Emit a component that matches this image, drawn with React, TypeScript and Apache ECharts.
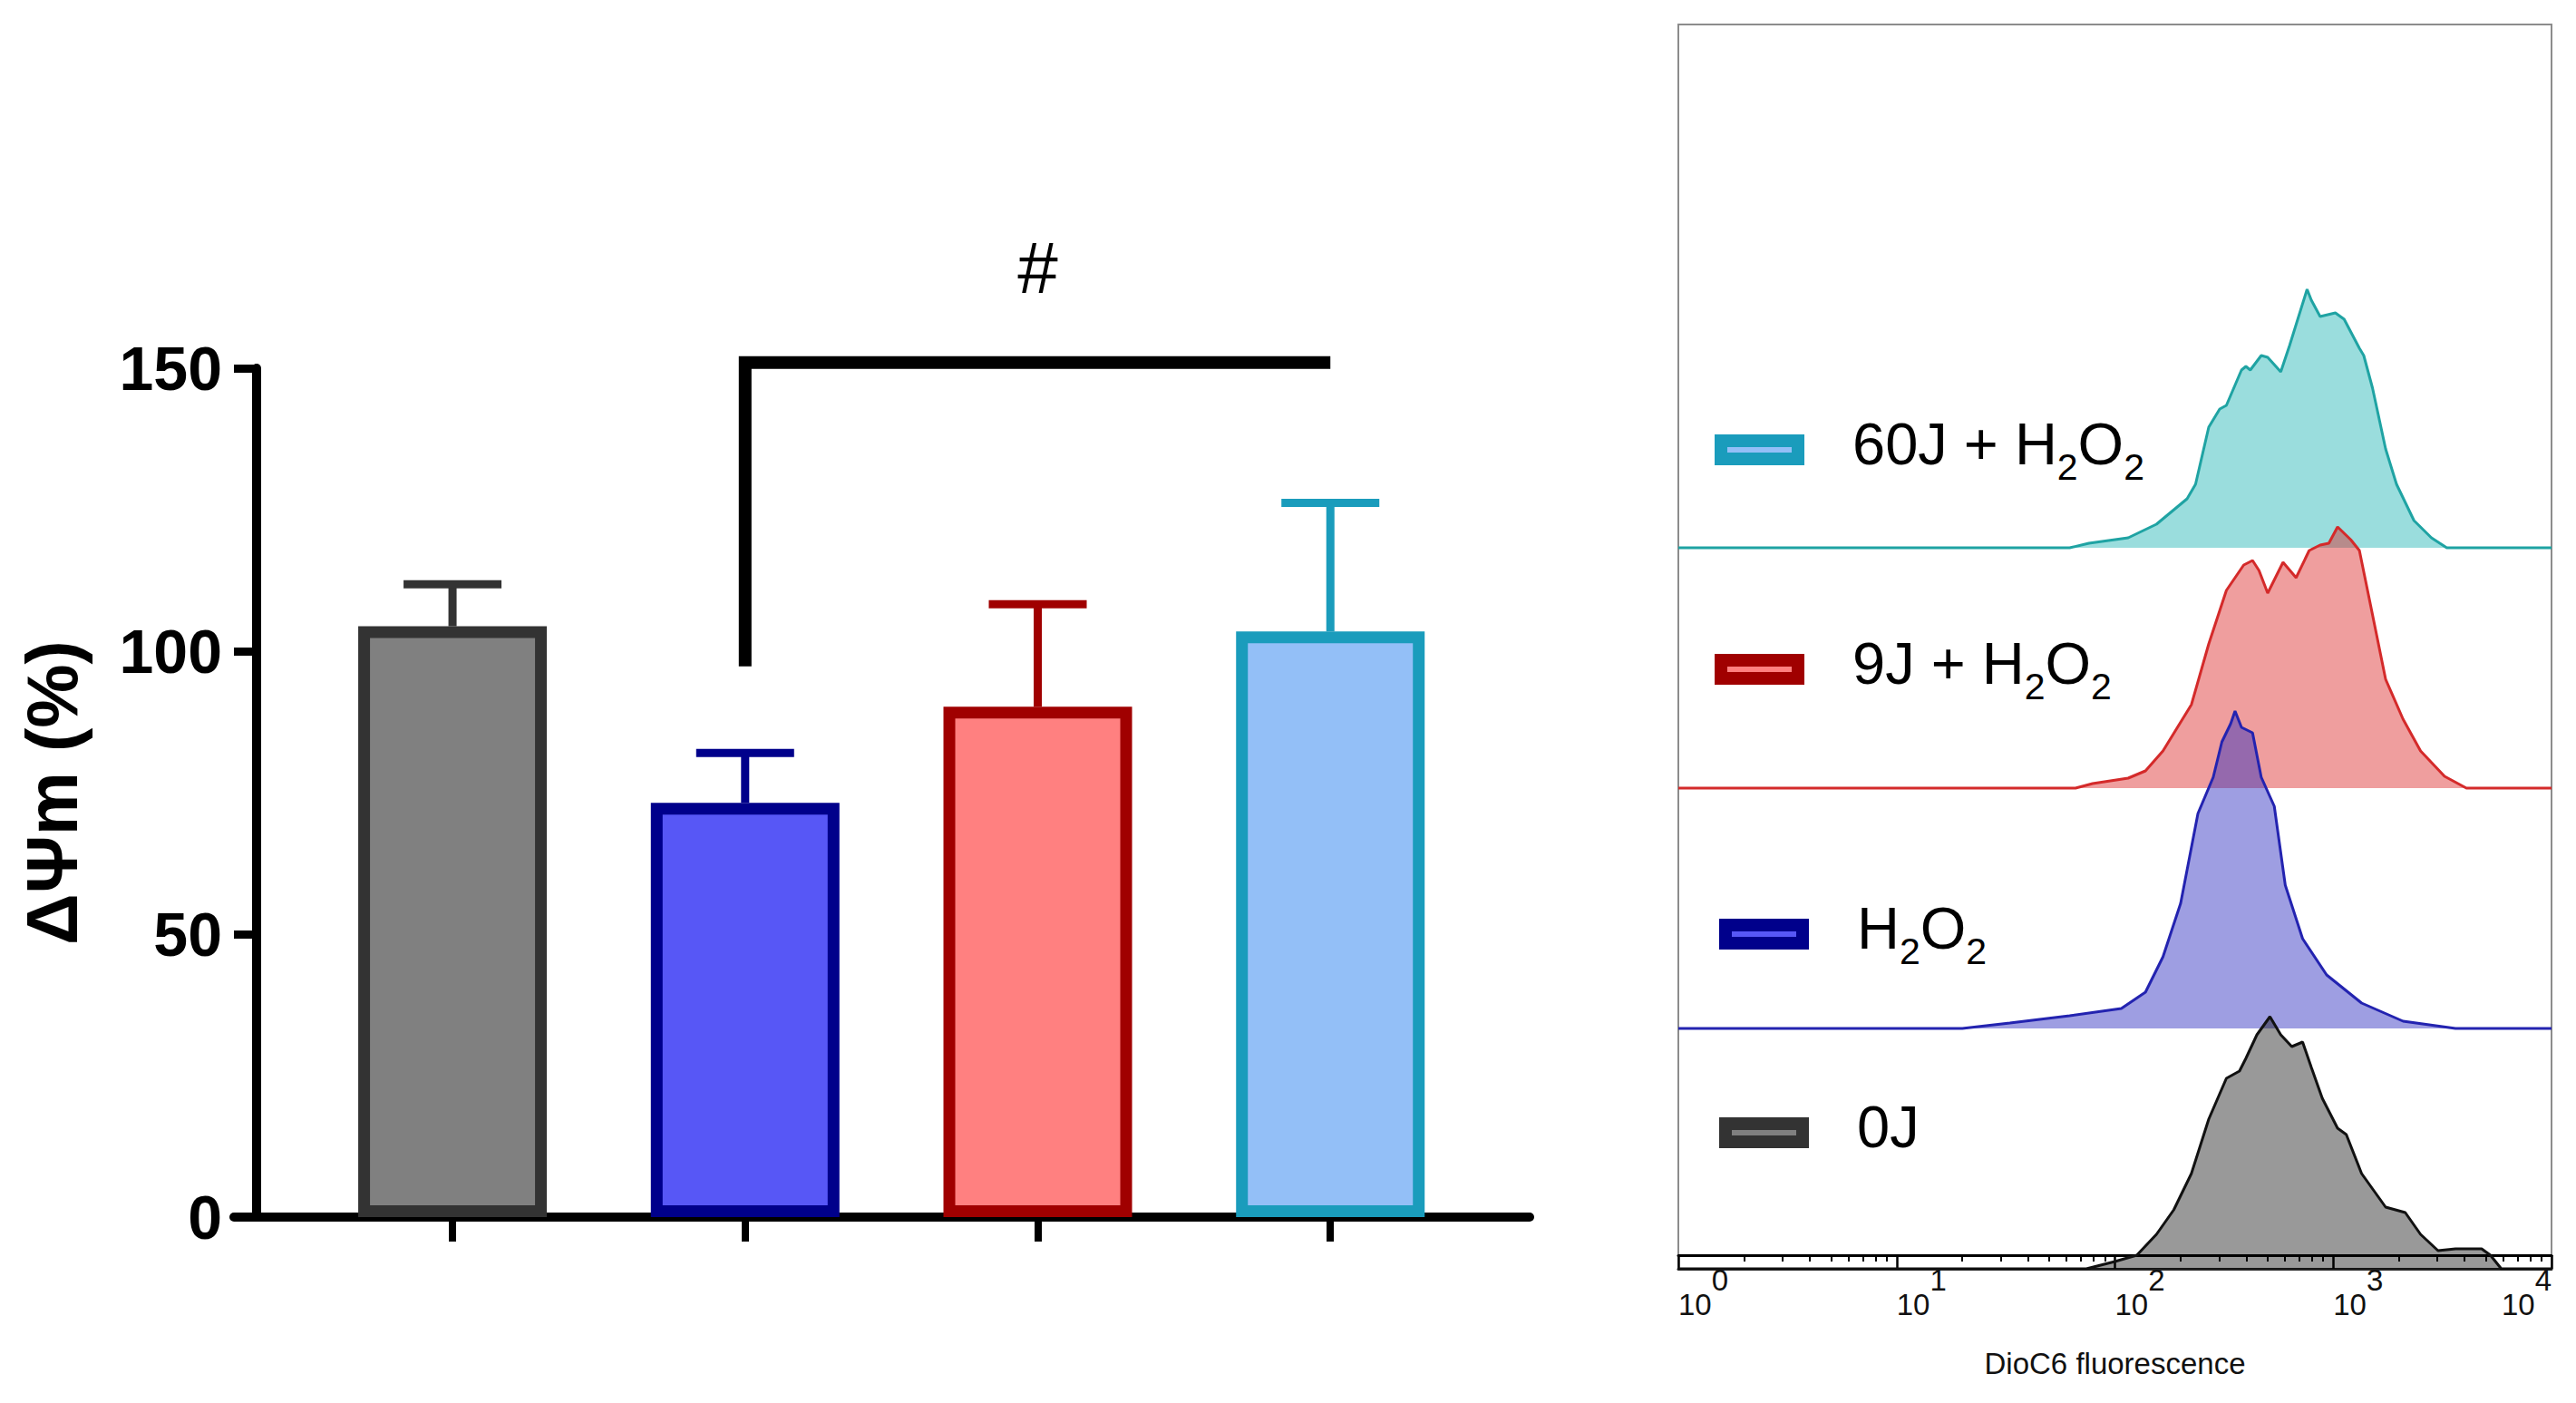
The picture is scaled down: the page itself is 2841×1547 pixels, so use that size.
import React, { useEffect, useRef } from 'react';
import * as echarts from 'echarts';

// ---------------- Bar chart data (ΔΨm, % of control) ----------------
const groups = ['0J', 'H2O2', '9J + H2O2', '60J + H2O2'];
const meanValues = [104.4, 73.2, 90.2, 103.5];
const sdUpperValues = [111.8, 82.0, 108.3, 126.2];
const yTickInterval = 50;
const yMax = 150;
const bracketGroups = [1, 3];
const bracketTop = 151;
const bracketDrop = 97.3;
const bracketLabel = '#';

const barFill = ['#808080', '#5757f6', '#ff8080', '#93bff7'];
const barBorder = ['#333333', '#00008b', '#a00000', '#1a9cbc'];

// ---------------- Flow cytometry histograms: [DioC6 fluorescence, count] ----------------
const fluorMajorTicks = [1, 10, 100, 1000, 10000];
const fluorMinorTicks = [
  2, 3, 4, 5, 6, 7, 8, 9,
  20, 30, 40, 50, 60, 70, 80, 90,
  200, 300, 400, 500, 600, 700, 800, 900,
  2000, 3000, 4000, 5000, 6000, 7000, 8000, 9000,
];

const hist60J = [
  [1, 0], [62, 0], [76, 5], [115, 11], [155, 26], [214, 54], [234, 70], [269, 133], [302, 153],
  [324, 157], [380, 196], [398, 200], [417, 196], [468, 212], [501, 210], [575, 194], [631, 223],
  [759, 285], [794, 273], [871, 255], [1023, 259], [1122, 252], [1318, 220], [1380, 212],
  [1514, 176], [1738, 109], [1950, 70], [2344, 30], [2818, 11], [3311, 0], [10000, 0],
];
const hist9J = [
  [1, 0], [66, 0], [79, 5], [115, 11], [138, 19], [166, 41], [224, 92], [269, 159], [324, 218],
  [389, 246], [427, 251], [457, 240], [501, 215], [589, 249], [676, 232], [776, 262], [871, 268],
  [955, 270], [1047, 288], [1202, 274], [1318, 262], [1479, 203], [1738, 120], [2089, 76],
  [2512, 41], [3236, 13], [4074, 0], [10000, 0],
];
const histH2O2 = [
  [1, 0], [20, 0], [33, 6], [62, 14], [107, 22], [138, 40], [166, 79], [200, 138], [240, 237],
  [282, 277], [309, 316], [339, 336], [355, 350], [380, 332], [427, 326], [468, 277], [537, 245],
  [603, 158], [724, 99], [933, 59], [1349, 28], [2089, 8], [3631, 0], [10000, 0],
];
const hist0J = [
  [1, 0], [74, 0], [100, 8], [126, 15], [155, 38], [186, 65], [224, 105], [269, 165], [324, 210],
  [372, 218], [398, 232], [447, 258], [513, 278], [575, 258], [646, 245], [724, 250], [794, 222],
  [891, 188], [1047, 155], [1148, 148], [1349, 105], [1738, 68], [2138, 62], [2512, 38],
  [3020, 20], [3631, 22], [4786, 22], [5248, 15], [5888, 0], [10000, 0],
];

const FONT = '"Liberation Sans", Arial, Helvetica, sans-serif';
const HIST_STEP = 265;

function legendRich(name: string): string {
  const segs = name.replace('H2O2', 'H\u0001O\u0001').split('\u0001');
  let out = '';
  segs.forEach((seg, i) => {
    if (seg) out += `{${i === 0 ? 'm0' : 'm'}|${seg}}`;
    if (i < segs.length - 1) out += '{s|2}';
  });
  return out;
}

function mkLegend(name: string, left: number, top: number) {
  return {
    data: [name],
    left,
    top,
    orient: 'vertical',
    padding: 0,
    itemWidth: 85,
    itemHeight: 20,
    icon: 'rect',
    selectedMode: false,
    itemStyle: { borderWidth: 14 },
    formatter: legendRich,
    textStyle: {
      color: '#000',
      fontFamily: FONT,
      fontSize: 65,
      rich: {
        m0: { fontSize: 65, fontFamily: FONT, color: '#000', padding: [0, 0, 13, 55], verticalAlign: 'top' },
        m: { fontSize: 65, fontFamily: FONT, color: '#000', padding: [0, 0, 13, 0], verticalAlign: 'top' },
        s: { fontSize: 41, fontFamily: FONT, color: '#000', verticalAlign: 'bottom' },
      },
    },
  };
}

function buildOption(): any {
  const positions = groups.map((_, i) => i);

  const barSeries = groups.map((g, i) => ({
    type: 'bar',
    name: g,
    xAxisIndex: 0,
    yAxisIndex: 0,
    data: [[positions[i], meanValues[i]]],
    barWidth: 208,
    barGap: '-100%',
    itemStyle: { color: barFill[i], borderColor: barBorder[i], borderWidth: 13 },
    z: 3,
  }));

  const errorSeries = {
    type: 'custom',
    name: 'SD',
    xAxisIndex: 0,
    yAxisIndex: 0,
    clip: false,
    z: 2,
    data: groups.map((_, i) => ({
      value: [positions[i], meanValues[i], sdUpperValues[i]],
      itemStyle: { color: barBorder[i] },
    })),
    renderItem: (params: any, api: any) => {
      const x = api.value(0);
      const p0 = api.coord([x, api.value(1)]);
      const p1 = api.coord([x, api.value(2)]);
      const color = api.visual('color');
      const half = 54;
      return {
        type: 'group',
        children: [
          { type: 'line', shape: { x1: p0[0], y1: p0[1], x2: p1[0], y2: p1[1] }, style: { stroke: color, lineWidth: 9 } },
          { type: 'line', shape: { x1: p1[0] - half, y1: p1[1], x2: p1[0] + half, y2: p1[1] }, style: { stroke: color, lineWidth: 9 } },
        ],
      };
    },
  };

  const bracketSeries = {
    type: 'custom',
    name: 'significance',
    xAxisIndex: 0,
    yAxisIndex: 0,
    clip: false,
    z: 4,
    data: [[bracketGroups[0], bracketGroups[1], bracketTop, bracketDrop]],
    renderItem: (params: any, api: any) => {
      const a = api.coord([api.value(0), api.value(3)]);
      const b = api.coord([api.value(0), api.value(2)]);
      const c = api.coord([api.value(1), api.value(2)]);
      return {
        type: 'group',
        children: [
          {
            type: 'polyline',
            shape: { points: [a, b, c] },
            style: { stroke: '#000', lineWidth: 14, fill: null, lineJoin: 'miter', lineCap: 'butt' },
          },
          {
            type: 'text',
            x: (b[0] + c[0]) / 2,
            y: b[1] - 104,
            style: { text: bracketLabel, fontSize: 80, fontFamily: FONT, fill: '#000', align: 'center', verticalAlign: 'middle' },
          },
        ],
      };
    },
  };

  const histDefs = [
    { name: '60J + H2O2', data: hist60J, level: 3, line: '#1fa3a3', fill: 'rgba(30,180,180,0.45)' },
    { name: '9J + H2O2', data: hist9J, level: 2, line: '#d42a2a', fill: 'rgba(220,40,40,0.45)' },
    { name: 'H2O2', data: histH2O2, level: 1, line: '#2323b0', fill: 'rgba(40,40,190,0.45)' },
    { name: '0J', data: hist0J, level: 0, line: '#111111', fill: 'rgba(0,0,0,0.4)' },
  ];
  const histSeries = histDefs.map((h) => ({
    type: 'line',
    name: h.name + ' histogram',
    xAxisIndex: 1,
    yAxisIndex: 1,
    data: h.data.map(([f, c]) => [f, c + h.level * HIST_STEP]),
    symbol: 'none',
    showSymbol: false,
    lineStyle: { color: h.line, width: 3 },
    areaStyle: { color: h.fill, opacity: 1, origin: h.level * HIST_STEP },
    z: 2,
  }));

  const logAxisBase = {
    type: 'log',
    logBase: 10,
    min: 1,
    max: 10000,
    gridIndex: 1,
    position: 'bottom',
    splitLine: { show: false },
    minorTick: { show: false },
    minorSplitLine: { show: false },
  };

  return {
    animation: false,
    backgroundColor: '#ffffff',
    grid: [
      { left: 258, top: 406, width: 1429, height: 936, show: false },
      { left: 1851, top: 27, width: 963, height: 1372, show: true, borderColor: '#8c8c8c', borderWidth: 2, backgroundColor: 'transparent' },
    ],
    legend: [
      mkLegend('60J + H2O2', 1891, 457),
      mkLegend('9J + H2O2', 1891, 699),
      mkLegend('H2O2', 1896, 991),
      mkLegend('0J', 1896, 1210),
    ],
    xAxis: [
      {
        type: 'value',
        gridIndex: 0,
        min: -0.747,
        max: 3.681,
        position: 'bottom',
        axisLine: { show: true, onZero: false, lineStyle: { color: '#000', width: 10 } },
        axisTick: { show: true, customValues: positions, length: 27, lineStyle: { color: '#000', width: 8 } },
        axisLabel: { show: false },
        splitLine: { show: false },
      },
      {
        ...logAxisBase,
        axisLine: { show: true, onZero: false, lineStyle: { color: '#222', width: 3 } },
        axisTick: { show: false },
        axisLabel: {
          show: true,
          interval: 0,
          showMinLabel: true,
          showMaxLabel: true,
          align: 'left',
          alignMaxLabel: 'right',
          margin: -4,
          color: '#111',
          formatter: (v: number) => `{b|10}{e|${Math.round(Math.log10(v))}}`,
          rich: {
            b: { fontSize: 33, fontFamily: FONT, color: '#111', padding: [27, 0, 0, 0], verticalAlign: 'bottom' },
            e: { fontSize: 33, fontFamily: FONT, color: '#111', verticalAlign: 'top' },
          },
        },
        name: 'DioC6 fluorescence',
        nameLocation: 'middle',
        nameGap: 88,
        nameTextStyle: { fontSize: 33, fontFamily: FONT, color: '#111' },
      },
      {
        ...logAxisBase,
        offset: -15,
        axisLine: { show: true, onZero: false, lineStyle: { color: '#000', width: 3 } },
        axisTick: { show: true, inside: false, length: 15, customValues: fluorMajorTicks, lineStyle: { color: '#000', width: 2.5 } },
        axisLabel: { show: false },
      },
      {
        ...logAxisBase,
        offset: -15,
        axisLine: { show: false, onZero: false },
        axisTick: { show: true, inside: false, length: 7, customValues: fluorMinorTicks, lineStyle: { color: '#000', width: 2 } },
        axisLabel: { show: false },
      },
    ],
    yAxis: [
      {
        type: 'value',
        gridIndex: 0,
        min: 0,
        max: yMax,
        interval: yTickInterval,
        position: 'left',
        offset: -25,
        axisLine: { show: true, onZero: false, lineStyle: { color: '#000', width: 10 } },
        axisTick: { show: true, length: 25, lineStyle: { color: '#000', width: 9 } },
        axisLabel: { fontSize: 68, fontWeight: 'bold', color: '#000', fontFamily: FONT, margin: 38 },
        splitLine: { show: false },
        name: 'ΔΨm (%)',
        nameLocation: 'middle',
        nameGap: 186,
        nameTextStyle: { fontSize: 79, fontWeight: 'bold', color: '#000', fontFamily: FONT },
      },
      { type: 'value', gridIndex: 1, min: 0, max: 1372, show: false },
    ],
    series: [...barSeries, errorSeries, bracketSeries, ...histSeries],
  };
}

export default function App() {
  const ref = useRef<HTMLDivElement>(null);
  useEffect(() => {
    if (!ref.current) return;
    const chart = echarts.init(ref.current, undefined, { renderer: 'svg' });
    chart.setOption(buildOption());
    return () => chart.dispose();
  }, []);
  return (
    <div
      ref={ref}
      style={{ position: 'absolute', left: 0, top: 0, width: 2841, height: 1547, background: '#fff' }}
    />
  );
}
